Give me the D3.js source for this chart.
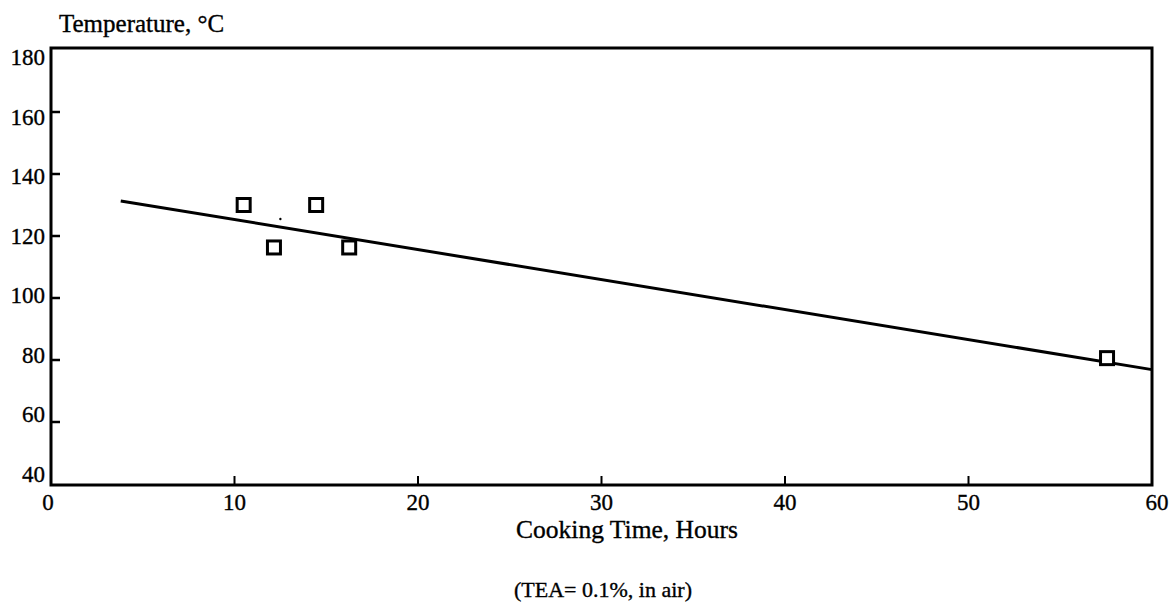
<!DOCTYPE html>
<html>
<head>
<meta charset="utf-8">
<script src="https://cdn.jsdelivr.net/npm/d3@7"></script>
<style>
  body { margin: 0; background: #fff; }
  svg text { font-family: "Liberation Serif", "DejaVu Serif", serif; fill: #000; stroke: #000; stroke-width: 0.35px; }
</style>
</head>
<body>
<svg id="chart"></svg>
<script>
// measured points (cooking time in hours, temperature in C)
var hours = [10.5, 12.15, 14.45, 16.25, 57.55];
var temps = [130, 116.3, 130, 116.3, 80.6];

// fitted trend line end points
var lineHours = [3.8, 60];
var lineTemps = [131.3, 76.9];

// the little stray dot on the scan
var dotHours = [12.5];
var dotTemps = [125.5];

var xTicks = [0, 10, 20, 30, 40, 50, 60];
var yTicks = [40, 60, 80, 100, 120, 140, 160, 180];

var yTitle = "Temperature, \u00b0C";
var xTitle = "Cooking Time, Hours";
var note = "(TEA= 0.1%, in air)";

var width = 1176, height = 608;
var svg = d3.select("#chart").attr("width", width).attr("height", height);

// plot frame (don't call it "top", window.top is taken)
var plotL = 51, plotR = 1152, plotT = 48, plotB = 485;

var x = d3.scaleLinear().domain([0, 60]).range([plotL, plotR]);
var y = d3.scaleLinear().domain([40, 180]).range([484, 50]);
// the printed labels sit a bit tighter than the ticks
var yLab = d3.scaleLinear().domain([40, 180]).range([474, 57]);

svg.append("rect")
  .attr("x", plotL).attr("y", plotT)
  .attr("width", plotR - plotL).attr("height", plotB - plotT)
  .attr("fill", "none").attr("stroke", "#000").attr("stroke-width", 3);

// inward ticks
svg.selectAll(".ytick")
  .data(yTicks.slice(1, -1))
  .enter().append("line")
  .attr("x1", plotL).attr("x2", plotL + 9)
  .attr("y1", d => y(d)).attr("y2", d => y(d))
  .attr("stroke", "#000").attr("stroke-width", 2.5);

svg.selectAll(".xtick")
  .data(xTicks.slice(1, -1))
  .enter().append("line")
  .attr("x1", d => x(d)).attr("x2", d => x(d))
  .attr("y1", plotB).attr("y2", plotB - 9)
  .attr("stroke", "#000").attr("stroke-width", 2);

// tick labels
svg.selectAll(".ylab")
  .data(yTicks)
  .enter().append("text")
  .attr("x", 45)
  .attr("y", d => yLab(d))
  .attr("dy", "0.35em")
  .attr("text-anchor", "end")
  .attr("font-size", 23)
  .text(d => d);

svg.selectAll(".xlab")
  .data(xTicks)
  .enter().append("text")
  .attr("x", d => x(d) + (d == 60 ? 5 : (d == 0 ? -3 : 0)))
  .attr("y", 510)
  .attr("text-anchor", "middle")
  .attr("font-size", 23)
  .text(d => d);

// titles
svg.append("text")
  .attr("x", 59).attr("y", 32)
  .attr("font-size", 25)
  .text(yTitle);

svg.append("text")
  .attr("x", 627).attr("y", 538)
  .attr("text-anchor", "middle")
  .attr("font-size", 25.5)
  .text(xTitle);

svg.append("text")
  .attr("x", 603).attr("y", 597)
  .attr("text-anchor", "middle")
  .attr("font-size", 22)
  .text(note);

// trend line
var line = d3.line()
  .x(d => x(d[0]))
  .y(d => y(d[1]));

svg.append("path")
  .datum(d3.zip(lineHours, lineTemps))
  .attr("d", line)
  .attr("fill", "none")
  .attr("stroke", "#000")
  .attr("stroke-width", 3);

// square markers
svg.selectAll(".pt")
  .data(d3.zip(hours, temps))
  .enter().append("rect")
  .attr("x", d => x(d[0]) - 6.5)
  .attr("y", d => y(d[1]) - 6.5)
  .attr("width", 13).attr("height", 13)
  .attr("fill", "#fff")
  .attr("stroke", "#000")
  .attr("stroke-width", 3);

svg.selectAll(".dot")
  .data(d3.zip(dotHours, dotTemps))
  .enter().append("circle")
  .attr("cx", d => x(d[0]))
  .attr("cy", d => y(d[1]))
  .attr("r", 1.2)
  .attr("fill", "#000");
</script>
</body>
</html>
